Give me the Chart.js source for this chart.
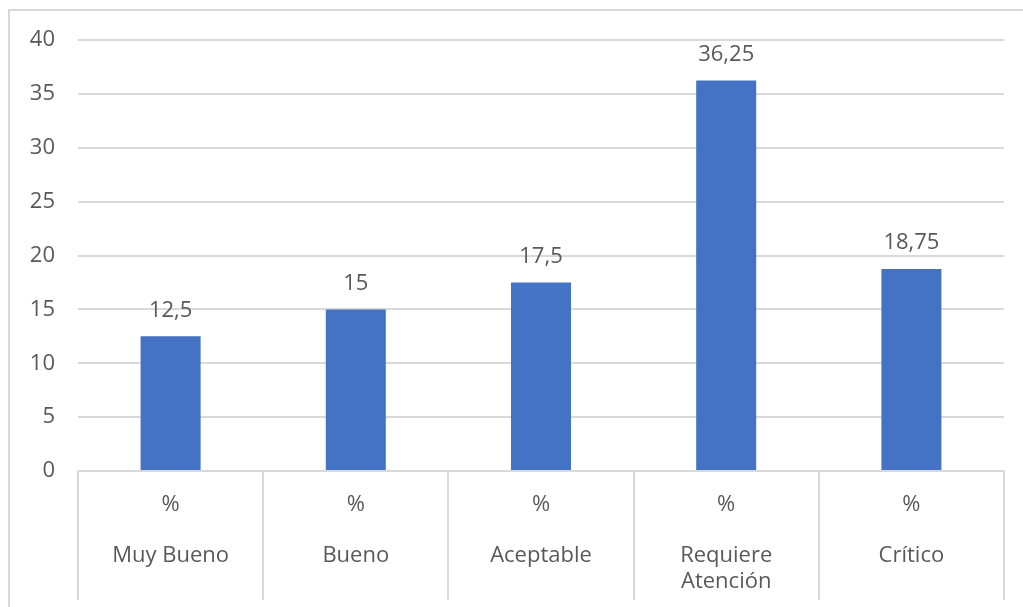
<!DOCTYPE html>
<html>
<head>
<meta charset="utf-8">
<script src="https://cdn.jsdelivr.net/npm/chart.js@4/dist/chart.umd.min.js"></script>
<style>
  html, body { margin: 0; padding: 0; background: #fff; overflow: hidden; }
  #frame {
    position: absolute; left: 8px; top: 9px; width: 1100px; height: 700px;
    border-left: 2px solid #d9d9d9; border-top: 2px solid #d9d9d9;
  }
  #wrap { position: absolute; left: 0; top: 0; width: 1023px; height: 607px; }
</style>
</head>
<body>
<div id="frame"></div>
<div id="wrap"><canvas id="myChart"></canvas></div>
<script>
// Two-level category axis: unit row on top, category name below
const unitRow = ["%", "%", "%", "%", "%"];
const categories = [["Muy Bueno"], ["Bueno"], ["Aceptable"], ["Requiere", "Atención"], ["Crítico"]];
const values = [12.5, 15, 17.5, 36.25, 18.75];
const yTicks = [0, 5, 10, 15, 20, 25, 30, 35, 40];

const textColor = "#595959";
const lineColor = "#d9d9d9";
const fontFamily = "'Open Sans', sans-serif";

// Labels drawn as multi-line ticks, with an empty line between the two rows
const labels = categories.map((lines, i) => [unitRow[i], ""].concat(lines));

// Value labels above each bar, using a decimal comma
const valueLabels = {
  id: "valueLabels",
  afterDatasetsDraw(chart) {
    const ctx = chart.ctx;
    const meta = chart.getDatasetMeta(0);
    ctx.save();
    ctx.font = "22px " + fontFamily;
    ctx.fillStyle = textColor;
    ctx.textAlign = "center";
    ctx.textBaseline = "middle";
    meta.data.forEach((bar, i) => {
      const text = String(values[i]).replace(".", ",");
      ctx.fillText(text, bar.x, bar.y - 26);
    });
    ctx.restore();
  },
};

const ctx = document.getElementById("myChart").getContext("2d");
new Chart(ctx, {
  type: "bar",
  data: {
    labels: labels,
    datasets: [
      {
        data: values,
        backgroundColor: "#4472C4",
        barPercentage: 0.324,
        categoryPercentage: 1,
      },
    ],
  },
  options: {
    responsive: true,
    maintainAspectRatio: false,
    animation: false,
    layout: { padding: { top: 40, right: 19, bottom: 0, left: 0 } },
    plugins: {
      legend: { display: false },
      tooltip: { enabled: false },
    },
    scales: {
      x: {
        offset: true,
        border: { display: true, color: lineColor, width: 2 },
        grid: {
          offset: true,
          drawOnChartArea: false,
          drawTicks: true,
          tickLength: 129,
          color: lineColor,
          lineWidth: 2,
        },
        ticks: {
          color: textColor,
          font: { family: fontFamily, size: 22, lineHeight: 1.16 },
          padding: -108,
          maxRotation: 0,
          autoSkip: false,
        },
        afterFit: (scale) => {
          scale.height = 136;
        },
      },
      y: {
        min: 0,
        max: 40,
        border: { display: false },
        grid: { color: lineColor, lineWidth: 2, drawTicks: false },
        afterBuildTicks: (scale) => {
          scale.ticks = yTicks.map((v) => ({ value: v }));
        },
        ticks: {
          color: textColor,
          font: { family: fontFamily, size: 22 },
          padding: 23,
        },
        afterFit: (scale) => {
          scale.width = 78;
        },
      },
    },
  },
  plugins: [valueLabels],
});
</script>
</body>
</html>
